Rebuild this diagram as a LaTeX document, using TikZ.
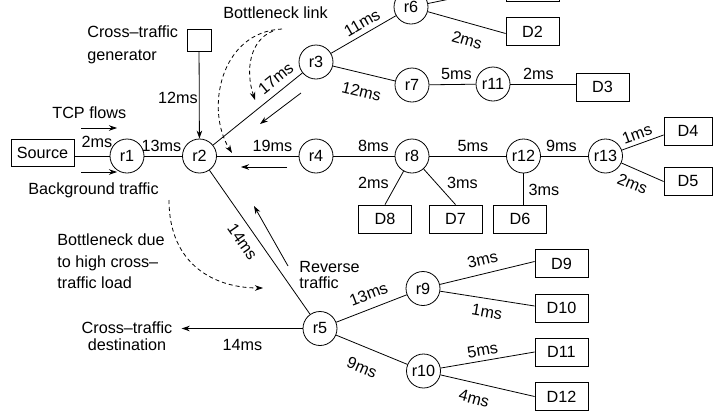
\documentclass[tikz,border=0pt]{standalone}
\usepackage{fontspec}
\setmainfont{Liberation Sans}
\usetikzlibrary{arrows.meta}
\begin{document}
\begin{tikzpicture}[x=1pt,y=-1pt, line width=0.8pt,
  every node/.style={font=\fontsize{16.2}{19}\selectfont},
  rt/.style={circle,draw,minimum size=34pt,inner sep=0pt},
  dbox/.style={rectangle,draw,minimum width=53pt,minimum height=28pt,inner sep=0pt},
  lbl/.style={inner sep=0pt},
  txt/.style={inner sep=0pt},
  arr/.style={-{Stealth[length=8pt,width=5.5pt]}},
  dsh/.style={dash pattern=on 4pt off 3pt,-{Stealth[length=8pt,width=5.5pt]}}]
\useasboundingbox (0,0) rectangle (716,413);
\clip (0,0) rectangle (716,413);

% routers
\node[rt] (r1) at (127,156) {r1};
\node[rt] (r2) at (199.5,156) {r2};
\node[rt] (r3) at (316,62) {r3};
\node[rt] (r4) at (316,156) {r4};
\node[rt] (r5) at (320,328.5) {r5};
\node[rt] (r6) at (411,7) {r6};
\node[rt] (r7) at (412,85) {r7};
\node[rt] (r8) at (412,156) {r8};
\node[rt] (r9) at (423,288.5) {r9};
\node[rt] (r10) at (423.5,371) {r10};
\node[rt] (r11) at (493,84) {r11};
\node[rt] (r12) at (523.5,156) {r12};
\node[rt] (r13) at (605.5,156) {r13};

% boxes
\node[dbox,minimum width=63pt,minimum height=27pt] (src) at (42.5,152.5) {Source};
\node[rectangle,draw,minimum width=24pt,minimum height=22pt,inner sep=0pt] (gen) at (199,40) {};
\node[dbox] (D1) at (532.5,-12.5) {};
\node[dbox] (D2) at (532.5,31.5) {D2};
\node[dbox] (D3) at (602.5,87) {D3};
\node[dbox,minimum width=48pt] (D4) at (688,131) {D4};
\node[dbox,minimum width=48pt] (D5) at (688,181.5) {D5};
\node[dbox] (D6) at (520,219) {D6};
\node[dbox] (D7) at (455.5,219) {D7};
\node[dbox] (D8) at (385,219) {D8};
\node[dbox] (D9) at (561.5,263.5) {D9};
\node[dbox] (D10) at (561.5,308) {D10};
\node[dbox] (D11) at (561.5,352) {D11};
\node[dbox] (D12) at (561.5,396.5) {D12};

% text nodes
\node[txt] (bnlink) at (275.5,13) {Bottleneck link};
\node[txt,anchor=west,align=left,font=\fontsize{16.2}{23}\selectfont] (gentxt) at (87,45) {Cross–traffic\\generator};
\node[txt,anchor=west] (tcp) at (52,113) {TCP flows};
\node[txt,anchor=west] (bg) at (28,190) {Background traffic};
\node[txt,anchor=west,align=left,font=\fontsize{16.2}{21.7}\selectfont] (bnd) at (57,261.5) {Bottleneck due\\to high cross–\\traffic load};
\node[txt,anchor=west,align=left,font=\fontsize{16.2}{16.6}\selectfont] (rev) at (299,275) {Reverse\\traffic};
\node[txt,align=center,font=\fontsize{16.2}{17}\selectfont] (dest) at (127,336.5) {Cross–traffic\\destination};

% links
\draw (src.east |- r1) -- (r1);
\draw (r1) -- (r2);
\draw[arr] (gen) -- (r2);
\draw (r2) -- (r3);
\draw (r3) -- (r6);
\draw (r6) -- (D1.west);
\draw (r6) -- ([yshift=-2pt]D2.west);
\draw (r3) -- (r7);
\draw (r7) -- (r11);
\draw (r11) -- (r11 -| D3.west);
\draw (r2) -- (r4);
\draw (r4) -- (r8);
\draw (r8) -- (r12);
\draw (r12) -- (r13);
\draw (r13) -- ([yshift=-4pt]D4.west);
\draw (r13) -- (D5.west);
\draw (r8) -- (D8.north);
\draw (r8) -- (D7.north);
\draw (r12) -- (r12 |- D6.north);
\draw (r2) -- (r5);
\draw (r5) -- (r9);
\draw (r5) -- (r10);
\draw (r9) -- ([yshift=2pt]D9.west);
\draw (r9) -- ([yshift=2pt]D10.west);
\draw (r10) -- (D11.west);
\draw (r10) -- (D12.west);
\draw[arr] (r5) -- ([xshift=9pt]dest.east |- r5);

% flow arrows
\coordinate (tcpA) at (81,128); \coordinate (tcpB) at (117,128);
\coordinate (bgA) at (81,172); \coordinate (bgB) at (117,172);
\coordinate (parA) at (301,93); \coordinate (parB) at (260,124);
\coordinate (revA) at (287,167); \coordinate (revB) at (241,167);
\coordinate (rtA) at (288,266); \coordinate (rtB) at (254,206);
\draw[arr] (tcpA) -- (tcpB);
\draw[arr] (bgA) -- (bgB);
\draw[arr] (parA) -- (parB);
\draw[arr] (revA) -- (revB);
\draw[arr] (rtA) -- (rtB);

% dashed pointers
\coordinate (dA0) at (282,29); \coordinate (dA1) at (232,153);
\coordinate (dB0) at (273,31); \coordinate (dB1) at (255,100);
\coordinate (dC0) at (169,200); \coordinate (dC1) at (263,288);
\draw[dsh] (dA0) .. controls (220,32) and (205,110) .. (dA1);
\draw[dsh] (dB0) .. controls (250,40) and (245,70) .. (dB1);
\draw[dsh] (dC0) .. controls (169,265) and (215,288) .. (dC1);

% delay labels
\node[lbl] (l1) at (97,142) {2ms};
\node[lbl] (l2) at (161.5,146) {13ms};
\node[lbl] (l3) at (178,98) {12ms};
\node[lbl,rotate=39] (l4) at (275.8,78.5) {17ms};
\node[lbl,rotate=30] (l5) at (362,23) {11ms};
\node[lbl,rotate=-16] (l6) at (467,40) {2ms};
\node[lbl,rotate=-13.5] (l7) at (361.5,91.5) {12ms};
\node[lbl] (l8) at (456.5,74) {5ms};
\node[lbl] (l9) at (538.5,74) {2ms};
\node[lbl] (l10) at (272.5,146) {19ms};
\node[lbl] (l11) at (373.5,146) {8ms};
\node[lbl] (l12) at (473,146) {5ms};
\node[lbl] (l13) at (561.5,146) {9ms};
\node[lbl,rotate=20] (l14) at (637,134) {1ms};
\node[lbl,rotate=-22] (l15) at (632.5,184) {2ms};
\node[lbl] (l16) at (373.5,183) {2ms};
\node[lbl] (l17) at (462.5,183) {3ms};
\node[lbl] (l18) at (544,190) {3ms};
\node[lbl,rotate=-55] (l19) at (242.5,242) {14ms};
\node[lbl] (l20) at (242.5,345) {14ms};
\node[lbl,rotate=21] (l21) at (368.5,294) {13ms};
\node[lbl,rotate=-22.5] (l22) at (362,367.5) {9ms};
\node[lbl,rotate=13.5] (l23) at (482.5,259.5) {3ms};
\node[lbl,rotate=-10] (l24) at (487,312) {1ms};
\node[lbl,rotate=10] (l25) at (482.5,350) {5ms};
\node[lbl,rotate=-15] (l26) at (474,398.5) {4ms};
\end{tikzpicture}
\end{document}
